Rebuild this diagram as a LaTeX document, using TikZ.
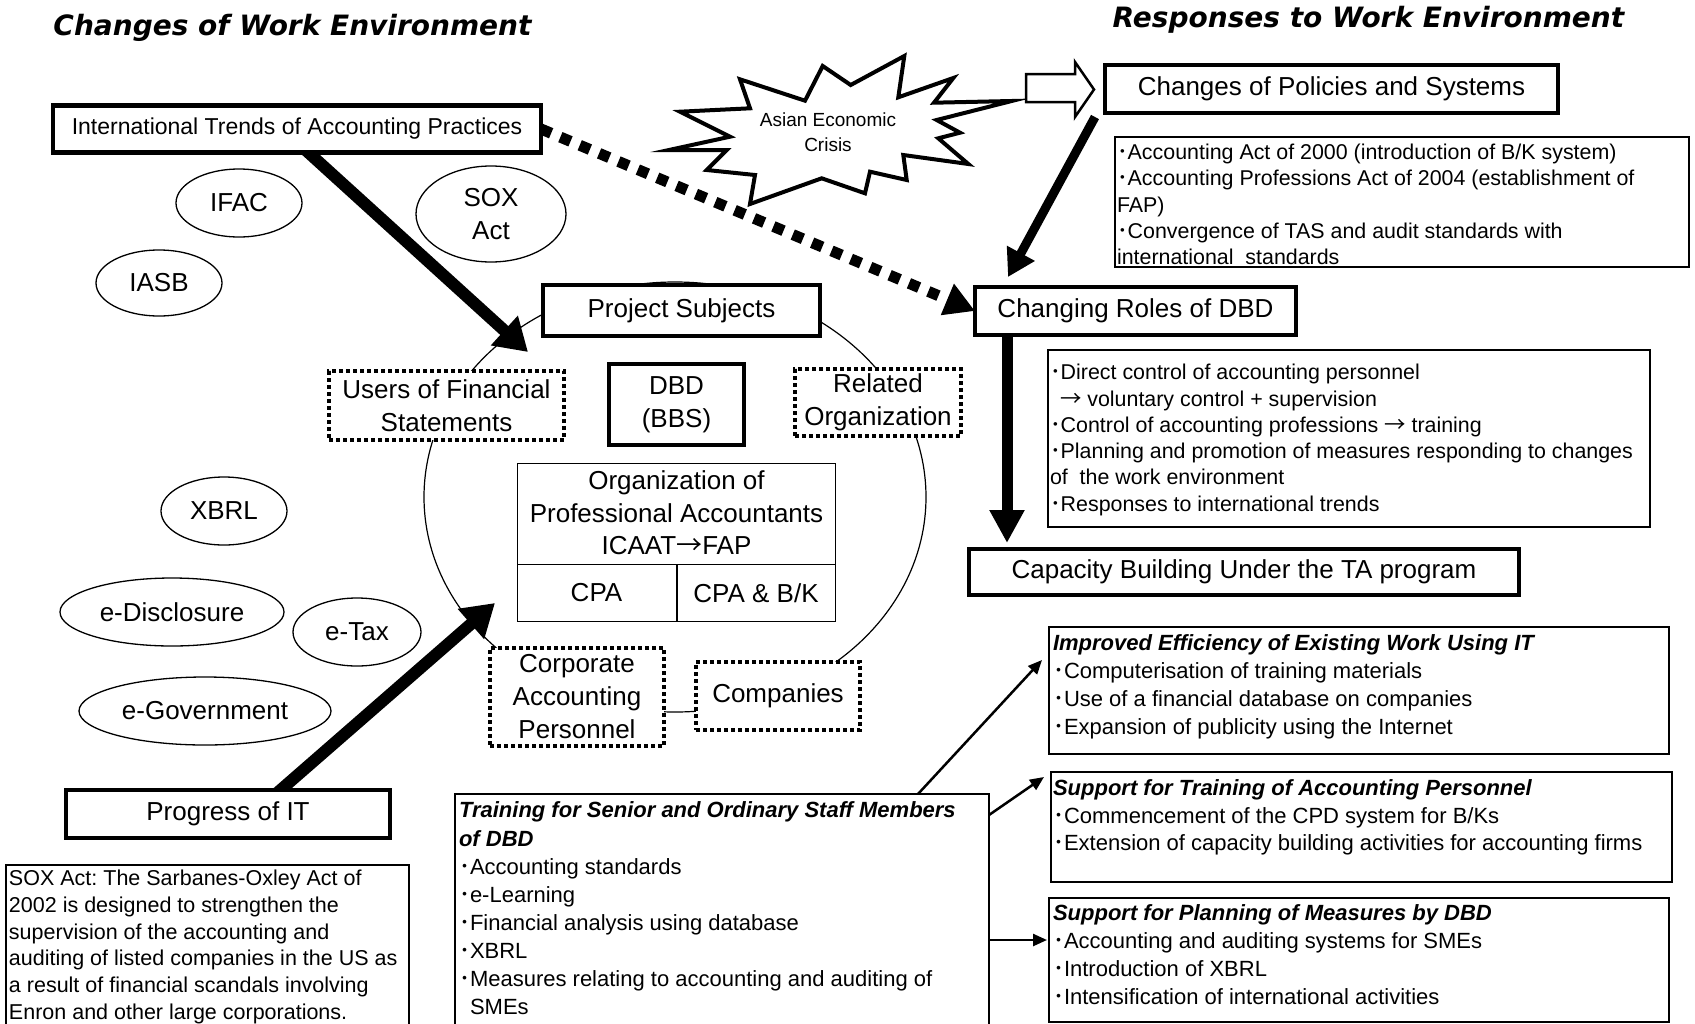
\documentclass[tikz,border=0pt]{standalone}
\usepackage{fontspec}
\setmainfont{Liberation Sans}
\newfontfamily\titlefont{DejaVu Sans}
\newfontfamily\cjkfont{Noto Sans CJK JP}
\usetikzlibrary{arrows.meta,shapes.geometric}
\pgfdeclarelayer{bglayer}
\pgfdeclarelayer{ringlayer}
\pgfdeclarelayer{arrowlayer}
\pgfsetlayers{bglayer,ringlayer,arrowlayer,main}
\newcommand{\bu}{{\cjkfont ･}}
\newcommand{\rarr}{{\cjkfont →}}
\newcommand{\fl}{\rule{0pt}{0.8em}}
\frenchspacing
\begin{document}
\begin{tikzpicture}[x=1pt,y=-1pt,
  every node/.style={inner sep=0pt, outer sep=0pt},
  thickbox/.style={draw, rectangle, line width=4.5pt, fill=white, font=\fontsize{26}{33}\selectfont, align=center},
  thinbox/.style={draw, rectangle, line width=1.4pt, fill=white},
  dotbox/.style={draw, rectangle, line width=4pt, dash pattern=on 4pt off 3pt, fill=white, font=\fontsize{26}{33}\selectfont, align=center},
  ell/.style={draw, ellipse, line width=1.3pt, fill=white, font=\fontsize{26}{33}\selectfont, align=center},
  big/.style={font=\fontsize{26}{32.5}\selectfont, align=center},
  ttl/.style={font=\titlefont\fontsize{28}{34}\selectfont\bfseries\itshape, anchor=base},
  listtxt/.style={anchor=north west, align=left},
  bigarrow/.style={line width=12pt, -{Triangle[length=32pt,width=38pt]}},
  midarrow/.style={line width=9pt, -{Triangle[length=27pt,width=30pt]}},
  downarrow/.style={line width=11pt, -{Triangle[length=33pt,width=33pt]}},
  dotarrow/.style={line width=11pt, dash pattern=on 11pt off 10pt, -{Triangle[length=30pt,width=32pt]}},
  thinarrow/.style={line width=2.5pt, -{Triangle[length=14pt,width=12pt]}},
]
\begin{pgfonlayer}{bglayer}
\fill[white] (0,0) rectangle (1695,1023);
\end{pgfonlayer}
\useasboundingbox (0,0) rectangle (1695,1023);

% titles
\node[ttl] (ttlL) at (292.5,35) {Changes of Work Environment};
\node[ttl] (ttlR) at (1368.5,27) {Responses to Work Environment};

% left side
\node[thickbox, minimum width=488pt, minimum height=47pt, font=\fontsize{23}{28}\selectfont] (intl) at (297,129) {International Trends of Accounting Practices};
\node[ell, minimum width=126pt, minimum height=68pt] (ifac) at (239,203) {IFAC};
\node[ell, minimum width=150pt, minimum height=96pt] (sox) at (491,214) {SOX\\Act};
\node[ell, minimum width=126pt, minimum height=66pt] (iasb) at (159,283) {IASB};
\node[ell, minimum width=126pt, minimum height=68pt] (xbrl) at (224,511) {XBRL};
\node[ell, minimum width=224pt, minimum height=68pt] (edis) at (172,612) {e-Disclosure};
\node[ell, minimum width=128pt, minimum height=68pt] (etax) at (357,632) {e-Tax};
\node[ell, minimum width=252pt, minimum height=68pt] (egov) at (205,711) {e-Government};
\node[thickbox, minimum width=324pt, minimum height=48pt] (prog) at (228,814) {Progress of IT};

\node[thinbox, minimum width=403pt, minimum height=170pt] (soxnote) at (207.5,950) {};
\node[listtxt, font=\fontsize{21.5}{26.7}\selectfont] (soxtxt) at ([shift={(3,3.5)}]soxnote.north west)
 {\fl SOX Act: The Sarbanes-Oxley Act of\\
  2002 is designed to strengthen the\\
  supervision of the accounting and\\
  auditing of listed companies in the US as\\
  a result of financial scandals involving\\
  Enron and other large corporations.};

% ring of project subjects
\begin{pgfonlayer}{ringlayer}
\node[draw, ellipse, line width=1.2pt, minimum width=502pt, minimum height=430pt] (ring) at (675,497) {};
\end{pgfonlayer}

\node[thickbox, minimum width=277pt, minimum height=51pt] (proj) at (681.5,310.5) {Project Subjects};
\node[dotbox, minimum width=235pt, minimum height=69pt] (users) at (446.5,405.5) {Users of Financial\\Statements};
\node[thickbox, minimum width=135pt, minimum height=81pt] (dbd) at (676.5,404.5) {DBD\\(BBS)};
\node[dotbox, minimum width=166pt, minimum height=67pt] (rel) at (878,402.5) {Related\\Organization};
\node[thinbox, minimum width=318pt, minimum height=158pt] (org) at (676.5,542.5) {};
\draw[line width=1.4pt] ([shift={(0,101)}]org.north west) -- ([shift={(0,101)}]org.north east);
\draw[line width=1.4pt] ([shift={(159.5,101)}]org.north west) -- ([shift={(159.5,0)}]org.south west);
\node[big] (orgtxt) at (676.5,513) {Organization of\\Professional Accountants\\ICAAT\rarr FAP};
\node[big] (cpa) at (596.5,593) {CPA};
\node[big] (cpabk) at (756,593) {CPA \& B/K};
\node[dotbox, minimum width=174pt, minimum height=98pt] (corp) at (577,697) {Corporate\\Accounting\\Personnel};
\node[dotbox, minimum width=164pt, minimum height=68pt] (comp) at (778,696) {Companies};

% training box
\node[thinbox, minimum width=534pt, minimum height=241pt] (train) at (722,914.5) {};
\node[listtxt, font=\fontsize{22}{28.1}\selectfont] (traintxt) at ([shift={(4,6.3)}]train.north west)
 {\fl{\bfseries\itshape Training for Senior and Ordinary Staff Members}\\
  {\bfseries\itshape of DBD}\\
  \bu Accounting standards\\
  \bu e-Learning\\
  \bu Financial analysis using database\\
  \bu XBRL\\
  \bu Measures relating to accounting and auditing of\\
  \hphantom{\bu}SMEs};

% crisis star
\draw[line width=4pt, line join=miter, fill=white] (680,111.7) -- (750,108.3) -- (740,79.3) -- (805,100.7) -- (822.7,66) -- (850.7,85) -- (904.3,56) -- (898.3,97.3) -- (953.3,78) -- (934,102.7) -- (1011.7,101) -- (936.7,120) -- (960,132.7) -- (938.3,138.3) -- (968.3,164) -- (903.3,155) -- (906.7,180) -- (870,171.7) -- (865,193.3) -- (821.7,178.3) -- (750,204) -- (755,175) -- (706.7,170) -- (726.7,150) -- (669,150) -- (730,136.7) -- cycle;
\node[font=\fontsize{19}{25}\selectfont, align=center] (crisis) at (828,132.5) {Asian Economic\\Crisis};
\draw[line width=2.5pt, line join=miter, fill=white] (1026,74) -- (1075,74) -- (1075,62) -- (1094,89.5) -- (1075,117) -- (1075,102) -- (1026,102) -- cycle;

% right side
\node[thickbox, minimum width=453pt, minimum height=48pt] (pol) at (1331.5,89) {Changes of Policies and Systems};
\node[thinbox, minimum width=574pt, minimum height=130pt] (polbox) at (1402,202) {};
\node[listtxt, font=\fontsize{21.4}{26.2}\selectfont] (poltxt) at ([shift={(2,5.6)}]polbox.north west)
 {\fl\bu Accounting Act of 2000 (introduction of B/K system)\\
  \bu Accounting Professions Act of 2004 (establishment of\\
  FAP)\\
  \bu Convergence of TAS and audit standards with\\
  international\ \ standards};

\node[thickbox, minimum width=321pt, minimum height=48pt] (roles) at (1135.5,311) {Changing Roles of DBD};
\node[thinbox, minimum width=602pt, minimum height=177pt] (rolebox) at (1349,438.5) {};
\node[listtxt, font=\fontsize{21.4}{26.3}\selectfont] (roletxt) at ([shift={(2,12.6)}]rolebox.north west)
 {\fl\bu Direct control of accounting personnel\\
  \hspace*{10pt}\rarr\ voluntary control + supervision\\
  \bu Control of accounting professions \rarr\ training\\
  \bu Planning and promotion of measures responding to changes\\
  of\ \ the work environment\\
  \bu Responses to international trends};

\node[thickbox, minimum width=550pt, minimum height=46pt] (cap) at (1244,572) {Capacity Building Under the TA program};

\node[thinbox, minimum width=620pt, minimum height=127pt] (eff) at (1359,690.5) {};
\node[listtxt, font=\fontsize{22}{28}\selectfont] (efftxt) at ([shift={(4,6.3)}]eff.north west)
 {\fl{\bfseries\itshape Improved Efficiency of Existing Work Using IT}\\
  \bu Computerisation of training materials\\
  \bu Use of a financial database on companies\\
  \bu Expansion of publicity using the Internet};

\node[thinbox, minimum width=621pt, minimum height=110pt] (tsup) at (1361.5,827) {};
\node[listtxt, font=\fontsize{22}{27.5}\selectfont] (tsuptxt) at ([shift={(2,6.3)}]tsup.north west)
 {\fl{\bfseries\itshape Support for Training of Accounting Personnel}\\
  \bu Commencement of the CPD system for B/Ks\\
  \bu Extension of capacity building activities for accounting firms};

\node[thinbox, minimum width=620pt, minimum height=124pt] (psup) at (1359,960) {};
\node[listtxt, font=\fontsize{22}{28}\selectfont] (psuptxt) at ([shift={(4,5.3)}]psup.north west)
 {\fl{\bfseries\itshape Support for Planning of Measures by DBD}\\
  \bu Accounting and auditing systems for SMEs\\
  \bu Introduction of XBRL\\
  \bu Intensification of international activities};

% connectors
\begin{pgfonlayer}{arrowlayer}
\coordinate (tipA) at (528,352);
\coordinate (tipB) at (495,603);
\coordinate (tipC) at (1008,277);
\draw[bigarrow] ([shift={(-14.5,0)}]intl.center) -- (tipA);
\draw[bigarrow] ([shift={(25,0)}]prog.center) -- (tipB);
\draw[dotarrow] (intl.east) -- (roles.west);
\draw[midarrow] ([shift={(-236.5,28)}]pol.center) -- (tipC);
\draw[downarrow] ([shift={(-128.5,0)}]roles.center) -- ([shift={(-237,-29)}]cap.center);
\draw[thinarrow] ([shift={(-71,0)}]train.north east) -- ([shift={(-7,33)}]eff.north west);
\draw[thinarrow] ([shift={(0,21)}]train.north east) -- ([shift={(-7,5)}]tsup.north west);
\draw[thinarrow] ([shift={(0,146)}]train.north east) -- ([shift={(-2,42)}]psup.north west);
\end{pgfonlayer}
\end{tikzpicture}
\end{document}
